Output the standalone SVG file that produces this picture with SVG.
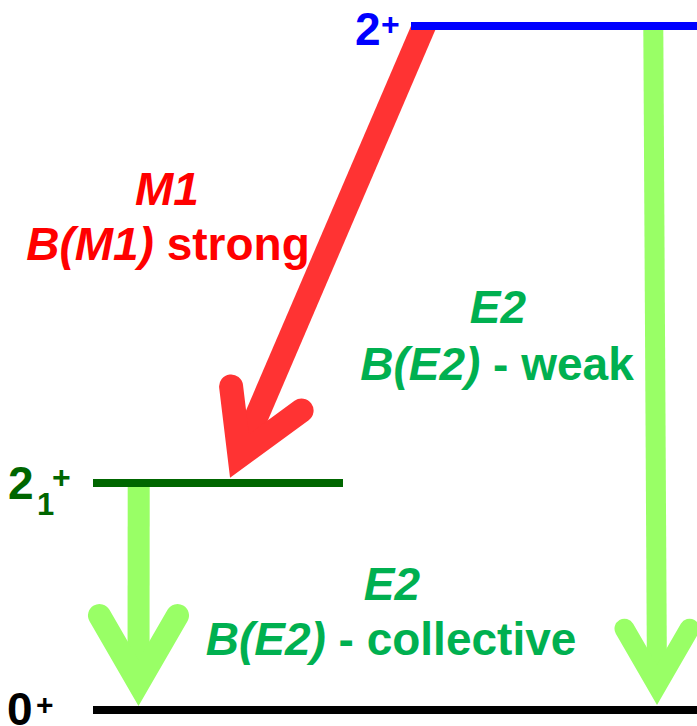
<svg xmlns="http://www.w3.org/2000/svg" width="697" height="726" viewBox="0 0 697 726">
<style>
text{font-family:"Liberation Sans",Arial,sans-serif;font-weight:bold}
.big{font-size:46px}
.sup{font-size:32px}
.it{font-style:italic}
.red{fill:#FF0000}
.grn{fill:#00B050}
.level{stroke-width:8;fill:none}
.barb{fill:none;stroke-linejoin:miter;stroke-linecap:round;stroke-miterlimit:10}
</style>
<rect width="697" height="726" fill="#FFFFFF"/>
<g id="connectors">
  <g id="m1-arrow">
    <polygon points="411,26 437,26 250.5,460.8 228.5,451.2" fill="#FF3333"/>
    <path class="barb" d="M231.1,386.5 L239.5,456 L301.6,410.5" stroke="#FF3333" stroke-width="24"/>
  </g>
  <g id="e2-weak-arrow">
    <line x1="653.3" y1="28" x2="657" y2="686" stroke="#99FF66" stroke-width="20"/>
    <path class="barb" d="M624.5,628.7 L657,685 L689.5,628.7" stroke="#99FF66" stroke-width="20"/>
  </g>
  <g id="e2-collective-arrow">
    <line x1="138.7" y1="486" x2="138.5" y2="684" stroke="#99FF66" stroke-width="22"/>
    <path class="barb" d="M99.5,615.5 L138.5,683 L177.5,615.5" stroke="#99FF66" stroke-width="23"/>
  </g>
</g>
<g id="level-2plus">
  <line class="level" x1="411" y1="26" x2="697" y2="26" stroke="#0000FF"/>
  <text x="355" y="45" fill="#0000FF"><tspan class="big">2</tspan><tspan class="sup" x="381" y="35">+</tspan></text>
</g>
<g id="level-21plus">
  <line class="level" x1="93" y1="483" x2="343" y2="483" stroke="#006600"/>
  <text x="8" y="499" fill="#006600"><tspan class="big">2</tspan><tspan x="37" y="515" style="font-size:31px">1</tspan><tspan class="sup" x="52" y="488">+</tspan></text>
</g>
<g id="level-0plus">
  <line class="level" x1="93" y1="710" x2="697" y2="710" stroke="#000000"/>
  <text x="7" y="725" fill="#000000"><tspan class="big">0</tspan><tspan x="36" y="714.5" style="font-size:30px">+</tspan></text>
</g>
<g id="label-m1">
  <text class="big it red" x="167" y="205" text-anchor="middle">M1</text>
  <text class="big red" x="168" y="260" text-anchor="middle"><tspan class="it">B(M1)</tspan> strong</text>
</g>
<g id="label-e2-weak">
  <text class="big it grn" x="498" y="323" text-anchor="middle">E2</text>
  <text class="big grn" x="497" y="380" text-anchor="middle"><tspan class="it">B(E2)</tspan> - weak</text>
</g>
<g id="label-e2-collective">
  <text class="big it grn" x="392" y="600" text-anchor="middle">E2</text>
  <text class="big grn" x="391" y="655" text-anchor="middle"><tspan class="it">B(E2)</tspan> - collective</text>
</g>
</svg>
